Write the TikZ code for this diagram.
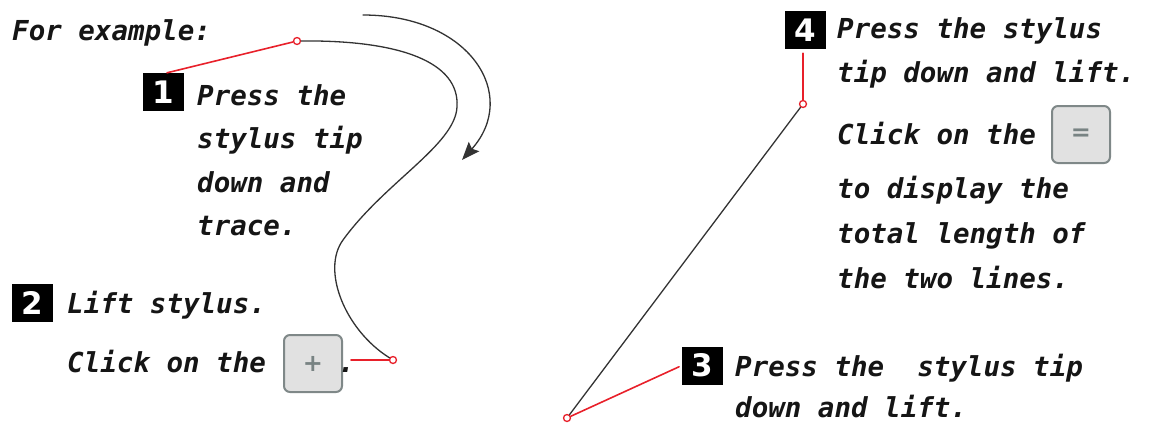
\documentclass[tikz,border=0pt]{standalone}
\usepackage{fontspec}
\setmonofont{DejaVu Sans Mono}
\newfontfamily\digitfont{DejaVu Sans}
\usetikzlibrary{arrows.meta}

\definecolor{penred}{HTML}{E8202A}
\definecolor{inkgray}{HTML}{333333}
\definecolor{inkblack}{HTML}{151515}
\definecolor{keyfill}{HTML}{E1E1E1}
\definecolor{keyrim}{HTML}{7F8888}
\definecolor{keyglyph}{HTML}{788383}

\begin{document}
\begin{tikzpicture}[
    x=1pt, y=-1pt,
    line cap=round,
    line join=round,
    txt/.style={anchor=base west, inner sep=0pt, text=inkblack,
        font=\ttfamily\bfseries\itshape\fontsize{27.5}{33}\selectfont},
    numbox/.style={fill=black, text=white, inner sep=0pt,
        minimum width=41pt, minimum height=38pt,
        font=\digitfont\bfseries\fontsize{31}{31}\selectfont},
    keybox/.style={draw=keyrim, fill=keyfill, line width=2pt,
        rounded corners=6pt, minimum width=58pt, minimum height=57pt,
        inner sep=0pt, text=keyglyph,
        font=\digitfont\bfseries\fontsize{24}{24}\selectfont},
    dot/.style={circle, draw=penred, fill=white, line width=1.3pt,
        inner sep=0pt, minimum size=7pt},
    redline/.style={draw=penred, line width=1.6pt},
    trace/.style={draw=inkgray, line width=1.3pt}
]
\useasboundingbox (0,0) rectangle (1149,424);

% -------------------------------------------------
% Точки касания пера
% -------------------------------------------------

\node[dot] (p1) at (297,41)  {};   % начало следа
\node[dot] (p2) at (393,360) {};   % конец следа
\node[dot] (p3) at (567,418) {};   % нижняя точка
\node[dot] (p4) at (803,104) {};   % верхняя точка

% -------------------------------------------------
% Шаг 1
% -------------------------------------------------

\node[txt] (intro) at (12,40) {For example:};
\node[numbox] (b1) at (163,92) {1};
\node[txt] (s1a) at (197,105) {Press the};
\node[txt] (s1b) at (197,148) {stylus tip};
\node[txt] (s1c) at (197,192) {down and};
\node[txt] (s1d) at (197,235) {trace.};

% -------------------------------------------------
% Шаг 2
% -------------------------------------------------

\node[numbox] (b2) at (32.5,302.5) {2};
\node[txt] (s2a) at (67,313) {Lift stylus.};
\node[txt] (s2b) at (67,372) {Click on the};
\node[keybox] (plus) at (313,363.5) {+};
\node[txt] (s2c) at (338,372) {.};
\coordinate (c2) at (351,360);

% -------------------------------------------------
% Шаг 3
% -------------------------------------------------

\node[numbox] (b3) at (702.5,365.5) {3};
\node[txt] (s3a) at (735,376) {Press the\ \ stylus tip};
\node[txt] (s3b) at (735,417) {down and lift.};

% -------------------------------------------------
% Шаг 4
% -------------------------------------------------

\node[numbox] (b4) at (805,30) {4};
\node[txt] (s4a) at (837,38)  {Press the stylus};
\node[txt] (s4b) at (837,82)  {tip down and lift.};
\node[txt] (s4c) at (837,144) {Click on the};
\node[keybox] (equal) at (1081,134.5) {=};
\node[txt] (s4d) at (837,198) {to display the};
\node[txt] (s4e) at (837,243) {total length of};
\node[txt] (s4f) at (837,288) {the two lines.};

% -------------------------------------------------
% След пера и прямая
% -------------------------------------------------

\draw[trace] (p1) .. controls (400,40) and (460,62) .. (457,107)
                  .. controls (455,145) and (385,182) .. (343,240)
                  .. controls (321,270) and (345,330) .. (p2);
\draw[trace] (p3) -- (p4);

% стрелка направления
\coordinate (arrA) at (363,15);
\coordinate (arrB) at (462,160);
\draw[trace, -{Stealth[length=18pt, width=14pt, inset=3pt]}]
    (arrA) .. controls (470,15) and (520,95) .. (arrB);

% -------------------------------------------------
% Красные выноски
% -------------------------------------------------

\draw[redline] ([xshift=4pt]b1.north) -- (p1);
\draw[redline] (c2) -- (p2);
\draw[redline, shorten <=3pt] (b3.west) -- (p3);
\draw[redline, shorten <=4pt] (b4.south -| p4) -- (p4);
\end{tikzpicture}
\end{document}
